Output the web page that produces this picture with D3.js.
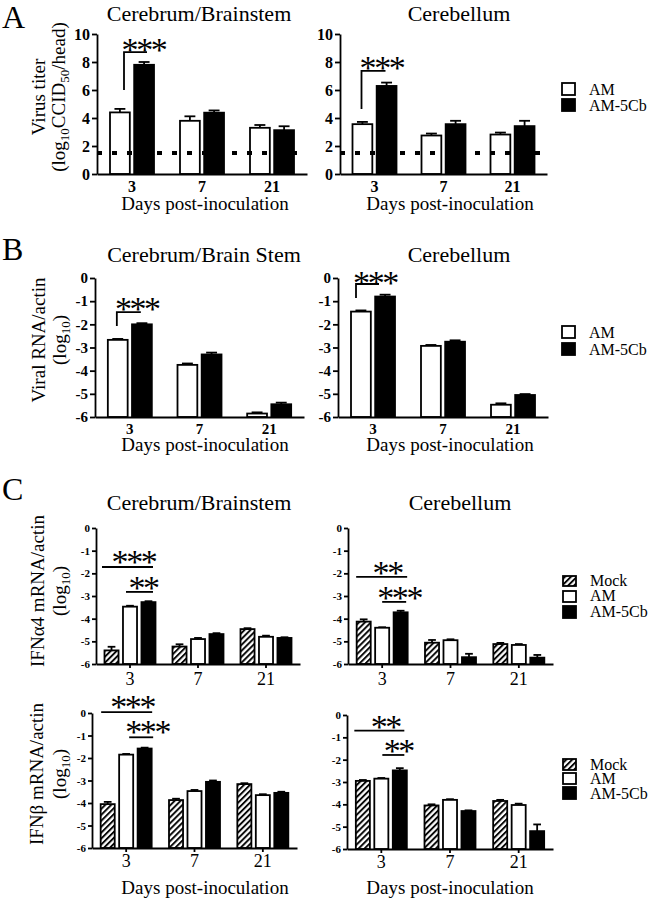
<!DOCTYPE html>
<html><head><meta charset="utf-8">
<script src="https://cdn.jsdelivr.net/npm/d3@7"></script>
<style>
body{margin:0;background:#fff}
svg{display:block}
text{font-family:"Liberation Serif","Times New Roman",serif;fill:#000}
</style>
</head><body>
<svg id="fig" width="650" height="902"></svg>
<script>
// ---------- DATA ----------
const days = ["3", "7", "21"];
const seriesAB = ["AM", "AM-5Cb"];
const seriesC = ["Mock", "AM", "AM-5Cb"];
const titerTicks = [0, 2, 4, 6, 8, 10];
const logTicks = [0, -1, -2, -3, -4, -5, -6];
const detectionLimit = 1.5;

// A: virus titer (log10 CCID50/head)
const titerCerebrumAM = [4.4, 3.8, 3.3];
const titerCerebrumAMErr = [0.25, 0.32, 0.2];
const titerCerebrum5Cb = [7.8, 4.38, 3.13];
const titerCerebrum5CbErr = [0.2, 0.16, 0.28];
const titerCerebellumAM = [3.56, 2.75, 2.82];
const titerCerebellumAMErr = [0.16, 0.14, 0.14];
const titerCerebellum5Cb = [6.29, 3.56, 3.42];
const titerCerebellum5CbErr = [0.24, 0.24, 0.38];

// B: viral RNA/actin (log10)
const rnaCerebrumAM = [-2.67, -3.75, -5.85];
const rnaCerebrumAMErr = [0.04, 0.06, 0.05];
const rnaCerebrum5Cb = [-2.0, -3.3, -5.45];
const rnaCerebrum5CbErr = [0.05, 0.08, 0.07];
const rnaCerebellumAM = [-1.45, -2.93, -5.47];
const rnaCerebellumAMErr = [0.05, 0.04, 0.06];
const rnaCerebellum5Cb = [-0.8, -2.75, -5.05];
const rnaCerebellum5CbErr = [0.08, 0.06, 0.04];

// C: IFN-alpha4 mRNA/actin (log10)
const ifnaCerebrumMock = [-5.4, -5.23, -4.46];
const ifnaCerebrumMockErr = [0.16, 0.1, 0.04];
const ifnaCerebrumAM = [-3.47, -4.9, -4.8];
const ifnaCerebrumAMErr = [0.04, 0.05, 0.05];
const ifnaCerebrum5Cb = [-3.27, -4.68, -4.85];
const ifnaCerebrum5CbErr = [0.04, 0.04, 0.03];
const ifnaCerebellumMock = [-4.13, -5.06, -5.12];
const ifnaCerebellumMockErr = [0.1, 0.12, 0.05];
const ifnaCerebellumAM = [-4.4, -4.95, -5.16];
const ifnaCerebellumAMErr = [0.02, 0.04, 0.04];
const ifnaCerebellum5Cb = [-3.72, -5.7, -5.72];
const ifnaCerebellum5CbErr = [0.07, 0.15, 0.12];

// C: IFN-beta mRNA/actin (log10)
const ifnbCerebrumMock = [-4.05, -3.87, -3.16];
const ifnbCerebrumMockErr = [0.1, 0.06, 0.04];
const ifnbCerebrumAM = [-1.85, -3.47, -3.65];
const ifnbCerebrumAMErr = [0.03, 0.05, 0.04];
const ifnbCerebrum5Cb = [-1.58, -3.06, -3.55];
const ifnbCerebrum5CbErr = [0.04, 0.06, 0.05];
const ifnbCerebellumMock = [-2.95, -4.05, -3.85];
const ifnbCerebellumMockErr = [0.04, 0.05, 0.05];
const ifnbCerebellumAM = [-2.85, -3.8, -4.03];
const ifnbCerebellumAMErr = [0.03, 0.03, 0.06];
const ifnbCerebellum5Cb = [-2.48, -4.3, -5.2];
const ifnbCerebellum5CbErr = [0.1, 0.03, 0.3];

// ---------- DRAW ----------
const svg = d3.select("#fig");
const defs = svg.append("defs");
const pat = defs.append("pattern").attr("id", "hatch")
  .attr("patternUnits", "userSpaceOnUse").attr("width", 4.2).attr("height", 4.2)
  .attr("patternTransform", "rotate(45)");
pat.append("rect").attr("width", 4.2).attr("height", 4.2).attr("fill", "#fff");
pat.append("line").attr("x1", 1).attr("y1", 0).attr("x2", 1).attr("y2", 4.2)
  .attr("stroke", "#000").attr("stroke-width", 1.9);

const fillFor = s => s === "Mock" ? "url(#hatch)" : (s === "AM" ? "#fff" : "#000");
const SW = 1.8;

function panel(cfg) {
  const g = svg.append("g");
  const x = d3.scaleBand().domain(days).range([cfg.x0, cfg.x1]);
  const y = d3.scaleLinear().domain(cfg.domain).range([cfg.yb, cfg.yt]);
  const sub = d3.scaleBand().domain(cfg.series).range([-cfg.gw / 2, cfg.gw / 2]).paddingInner(cfg.pad);
  const bw = sub.bandwidth();
  const gc = d => x(d) + x.bandwidth() / 2;

  cfg.series.forEach((s, i) => {
    days.forEach((d, j) => {
      const v = cfg.values[i][j], e = cfg.errors[i][j];
      const bx = gc(d) + sub(s);
      const top = y(v);
      const cx = bx + bw / 2;
      const cap = bw * 0.55;
      g.append("line").attr("x1", cx).attr("x2", cx).attr("y1", top).attr("y2", y(v + e))
        .attr("stroke", "#000").attr("stroke-width", SW);
      g.append("line").attr("x1", cx - cap / 2).attr("x2", cx + cap / 2).attr("y1", y(v + e)).attr("y2", y(v + e))
        .attr("stroke", "#000").attr("stroke-width", SW);
      g.append("rect").attr("x", bx).attr("y", top).attr("width", bw)
        .attr("height", y(cfg.domain[0]) - top)
        .attr("fill", fillFor(s)).attr("stroke", "#000").attr("stroke-width", SW);
    });
  });

  if (cfg.limit !== undefined) {
    g.append("line").attr("x1", cfg.x0).attr("x2", cfg.x1).attr("y1", y(cfg.limit)).attr("y2", y(cfg.limit))
      .attr("stroke", "#000").attr("stroke-width", 4).attr("stroke-dasharray", "5,10");
  }

  const ya = g.append("g").attr("transform", `translate(${cfg.x0},0)`)
    .call(d3.axisLeft(y).tickValues(cfg.ticks).tickSize(cfg.yTickSize).tickSizeOuter(0)
      .tickPadding(2).tickFormat(d => String(d)));
  ya.selectAll("text").attr("font-size", cfg.yFont).attr("font-weight", "bold");
  ya.select(".domain").attr("stroke-width", SW);
  ya.selectAll(".tick line").attr("stroke-width", SW);

  const xa = g.append("g").attr("transform", `translate(0,${cfg.yb})`)
    .call(d3.axisBottom(x).tickSize(cfg.xTickSize).tickSizeOuter(0).tickPadding(cfg.xPad));
  xa.selectAll("text").attr("font-size", cfg.xFont).attr("font-weight", cfg.xBold ? "bold" : "normal");
  xa.select(".domain").attr("stroke-width", SW);
  xa.selectAll(".tick line").attr("stroke-width", SW);

  (cfg.sig || []).forEach(a => {
    const c = gc(days[0]);
    if (a.kind === "bracket") {
      g.append("path")
        .attr("d", `M${c + a.xa},${y(a.yLow)} V${y(a.yHigh)} H${c + a.xb}`)
        .attr("fill", "none").attr("stroke", "#000").attr("stroke-width", SW);
    } else {
      g.append("line").attr("x1", c + a.xa).attr("x2", c + a.xb)
        .attr("y1", y(a.yLine)).attr("y2", y(a.yLine))
        .attr("stroke", "#000").attr("stroke-width", SW);
    }
    g.append("text").attr("x", c + a.sx).attr("y", y(a.sy) + 16)
      .attr("text-anchor", "middle").attr("font-size", 34).attr("letter-spacing", -2.4)
      .text(a.label);
  });

  if (cfg.title) {
    svg.append("text").attr("x", cfg.titleX).attr("y", cfg.titleY).attr("text-anchor", "middle")
      .attr("font-size", 22).text(cfg.title);
  }
  if (cfg.xlabelY) {
    svg.append("text").attr("x", cfg.xlabelX).attr("y", cfg.xlabelY).attr("text-anchor", "middle")
      .attr("font-size", 19).text("Days post-inoculation");
  }
}

function ylabel(cx, cy, line1, line2parts) {
  svg.append("text").attr("transform", `translate(${cx[0]},${cy}) rotate(-90)`)
    .attr("text-anchor", "middle").attr("font-size", 19).text(line1);
  const t2 = svg.append("text").attr("transform", `translate(${cx[1]},${cy}) rotate(-90)`)
    .attr("text-anchor", "middle").attr("font-size", 19);
  line2parts.forEach(p => {
    if (p.sub) {
      t2.append("tspan").attr("font-size", 13).attr("dy", 4).text(p.t);
    } else {
      t2.append("tspan").attr("dy", p.after ? -4 : 0).text(p.t);
    }
  });
}

function legend(x, rows, names) {
  names.forEach((n, i) => {
    const r = rows[i];
    svg.append("rect").attr("x", x).attr("y", r[0]).attr("width", 13).attr("height", r[1] - r[0])
      .attr("fill", fillFor(n)).attr("stroke", "#000").attr("stroke-width", SW);
    svg.append("text").attr("x", x + 27).attr("y", r[2]).attr("font-size", 16).text(n);
  });
}

svg.append("text").attr("x", 2).attr("y", 28).attr("font-size", 32).text("A");
svg.append("text").attr("x", 2).attr("y", 260).attr("font-size", 32).text("B");
svg.append("text").attr("x", 2).attr("y", 500).attr("font-size", 32).text("C");

const baseA = {series: seriesAB, domain: [0, 10], ticks: titerTicks, yb: 174, yt: 34, gw: 44, pad: 0.18,
  yTickSize: 5, yFont: 16, xTickSize: 0, xPad: 7, xFont: 16, xBold: true, limit: detectionLimit,
  titleY: 21, xlabelY: 210};
panel(Object.assign({}, baseA, {x0: 97, x1: 307,
  values: [titerCerebrumAM, titerCerebrum5Cb], errors: [titerCerebrumAMErr, titerCerebrum5CbErr],
  title: "Cerebrum/Brainstem", titleX: 199, xlabelX: 205,
  sig: [{kind: "bracket", xa: -8, xb: 15, yLow: 6.0, yHigh: 8.7, sx: 11.5, sy: 9.2, label: "***"}]}));
panel(Object.assign({}, baseA, {x0: 340, x1: 547,
  values: [titerCerebellumAM, titerCerebellum5Cb], errors: [titerCerebellumAMErr, titerCerebellum5CbErr],
  title: "Cerebellum", titleX: 459, xlabelX: 450,
  sig: [{kind: "bracket", xa: -13, xb: 11, yLow: 4.64, yHigh: 7.36, sx: 7, sy: 7.96, label: "***"}]}));
ylabel([45, 65], 97, "Virus titer",
  [{t: "(log"}, {t: "10", sub: true}, {t: "CCID", after: true}, {t: "50", sub: true}, {t: "/head)", after: true}]);
legend(562, [[83, 95, 95], [99, 111, 111]], seriesAB);

const baseB = {series: seriesAB, domain: [-6, 0], ticks: logTicks, yb: 417, yt: 278, gw: 44, pad: 0.18,
  yTickSize: 5, yFont: 15, xTickSize: 0, xPad: 6, xFont: 15, xBold: true,
  titleY: 262, xlabelY: 451};
panel(Object.assign({}, baseB, {x0: 95, x1: 304,
  values: [rnaCerebrumAM, rnaCerebrum5Cb], errors: [rnaCerebrumAMErr, rnaCerebrum5CbErr],
  title: "Cerebrum/Brain Stem", titleX: 204, xlabelX: 205,
  sig: [{kind: "bracket", xa: -13, xb: 11, yLow: -2.07, yHigh: -1.47, sx: 7, sy: -1.14, label: "***"}]}));
panel(Object.assign({}, baseB, {x0: 338, x1: 548,
  values: [rnaCerebellumAM, rnaCerebellum5Cb], errors: [rnaCerebellumAMErr, rnaCerebellum5CbErr],
  title: "Cerebellum", titleX: 459, xlabelX: 450,
  sig: [{kind: "bracket", xa: -17, xb: 6, yLow: -0.86, yHigh: -0.26, sx: 2, sy: 0.02, label: "***"}]}));
ylabel([45, 66], 340, "Viral RNA/actin", [{t: "(log"}, {t: "10", sub: true}, {t: ")", after: true}]);
legend(562, [[326, 338, 338], [343, 355, 355]], seriesAB);

const baseC = {series: seriesC, domain: [-6, 0], ticks: logTicks, gw: 51, pad: 0.24,
  yTickSize: 4, yFont: 11, xTickSize: 4, xFont: 18, xBold: false};
panel(Object.assign({}, baseC, {x0: 96, x1: 300, yb: 664, yt: 528, xPad: 4,
  values: [ifnaCerebrumMock, ifnaCerebrumAM, ifnaCerebrum5Cb],
  errors: [ifnaCerebrumMockErr, ifnaCerebrumAMErr, ifnaCerebrum5CbErr],
  title: "Cerebrum/Brainstem", titleX: 199, titleY: 510,
  sig: [{kind: "line", xa: -28, xb: 23, yLine: -1.72, sx: 3.5, sy: -1.28, label: "***"},
        {kind: "line", xa: -4, xb: 23, yLine: -2.82, sx: 13, sy: -2.43, label: "**"}]}));
panel(Object.assign({}, baseC, {x0: 348, x1: 553, yb: 664, yt: 528, xPad: 4,
  values: [ifnaCerebellumMock, ifnaCerebellumAM, ifnaCerebellum5Cb],
  errors: [ifnaCerebellumMockErr, ifnaCerebellumAMErr, ifnaCerebellum5CbErr],
  title: "Cerebellum", titleX: 460, titleY: 510,
  sig: [{kind: "line", xa: -26, xb: 25, yLine: -2.16, sx: 5, sy: -1.76, label: "**"},
        {kind: "line", xa: 0, xb: 24, yLine: -3.26, sx: 17, sy: -2.87, label: "***"}]}));
ylabel([44, 66], 591, "IFNα4 mRNA/actin", [{t: "(log"}, {t: "10", sub: true}, {t: ")", after: true}]);
legend(563, [[576, 586, 586], [591, 602, 601], [606, 618, 617]], seriesC);

panel(Object.assign({}, baseC, {x0: 92, x1: 297, yb: 848, yt: 713, xPad: 2,
  values: [ifnbCerebrumMock, ifnbCerebrumAM, ifnbCerebrum5Cb],
  errors: [ifnbCerebrumMockErr, ifnbCerebrumAMErr, ifnbCerebrum5CbErr],
  xlabelX: 205, xlabelY: 894,
  sig: [{kind: "line", xa: -25, xb: 26, yLine: 0.04, sx: 6, sy: 0.49, label: "***"},
        {kind: "line", xa: 3, xb: 27, yLine: -1.08, sx: 21, sy: -0.63, label: "***"}]}));
panel(Object.assign({}, baseC, {x0: 347, x1: 553, yb: 849, yt: 715, xPad: 2,
  values: [ifnbCerebellumMock, ifnbCerebellumAM, ifnbCerebellum5Cb],
  errors: [ifnbCerebellumMockErr, ifnbCerebellumAMErr, ifnbCerebellum5CbErr],
  xlabelX: 450, xlabelY: 894,
  sig: [{kind: "line", xa: -27, xb: 23, yLine: -0.7, sx: 4, sy: -0.3, label: "**"},
        {kind: "line", xa: 1, xb: 23, yLine: -1.79, sx: 17, sy: -1.41, label: "**"}]}));
ylabel([43, 66], 774, "IFNβ mRNA/actin", [{t: "(log"}, {t: "10", sub: true}, {t: ")", after: true}]);
legend(563, [[759, 770, 770], [773, 784, 784], [787, 799, 799]], seriesC);
</script>
</body></html>
